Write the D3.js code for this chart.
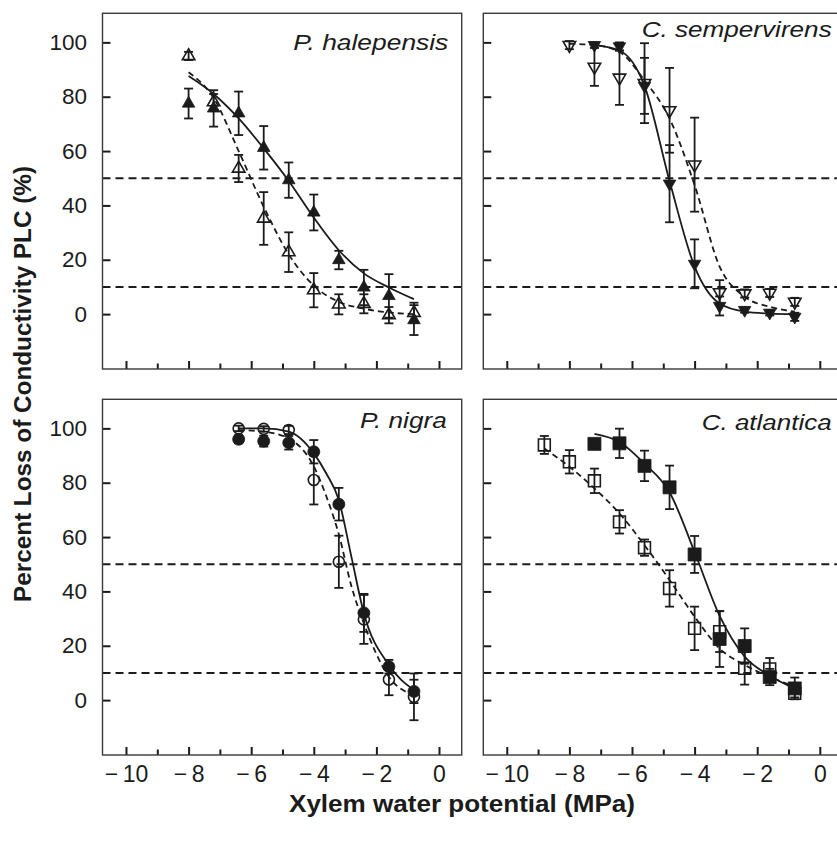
<!DOCTYPE html>
<html>
<head>
<meta charset="utf-8">
<script src="https://cdn.jsdelivr.net/npm/d3@7"></script>
<style>
  html, body { margin: 0; padding: 0; background: #fff; }
  svg { display: block; font-family: "Liberation Sans", Arial, Helvetica, sans-serif; }
</style>
</head>
<body>
<svg id="chart" width="837" height="843"></svg>
<script>
// ---------------- DATA ----------------
const xTicks = [-10, -9, -8, -7, -6, -5, -4, -3, -2, -1, 0];
const xLabels = [-10, -8, -6, -4, -2, 0];
const yTicks = [0, 20, 40, 60, 80, 100];
const refLines = [50, 10];

// P. halepensis (triangles up)
const phX = [-8, -7.2, -6.4, -5.6, -4.8, -4.0, -3.2, -2.4, -1.6, -0.8];
const phClosed = [77.5, 75.7, 73.9, 61.2, 49.3, 37.4, 19.9, 9.8, 6.7, -2.2];
const phClosedErr = [5.5, 6.7, 8, 8, 6.5, 6.6, 3.4, 6.5, 8, 5.5];
const phOpen = [95, 78, 53.6, 35.2, 22.8, 8.8, 3.6, 3.8, -0.4, 0.5];
const phOpenErr = [1.5, 3, 5, 9.7, 7.3, 6.3, 3.7, 3.5, 3, 3.7];
const phFitClosed = [87.6, 81, 72, 61, 49, 35.5, 23.5, 15, 9.8, 5.5];
const phFitOpen = [89, 79.5, 60, 39.5, 22, 10.5, 4.5, 2, 0.6, 0];

// C. sempervirens (triangles down)
const csClosedX = [-7.2, -6.4, -5.6, -4.8, -4.0, -3.2, -2.4, -1.6, -0.8];
const csClosed = [99, 98.5, 84, 48, 18.5, 3, 1.5, 0.5, -1];
const csClosedErr = [1, 1.5, 10.3, 14.2, 9, 3.5, 1, 1, 1.5];
const csOpenX = [-8, -7.2, -6.4, -5.6, -4.8, -4.0, -3.2, -2.4, -1.6, -0.8];
const csOpen = [99, 91, 87, 85, 75, 55, 8, 7.6, 7.8, 4.5];
const csOpenErr = [1.5, 7, 10, 14.7, 15.6, 17.3, 4.5, 1.5, 1.5, 1.5];
const csFitClosed = [99, 97, 84, 49, 17.5, 3.9, 0.9, 0.2, 0];
const csFitOpen = [99.5, 99, 96.5, 86, 72, 47.5, 17.5, 6.4, 2.7, 0.9];

// P. nigra (circles)
const pnX = [-6.4, -5.6, -4.8, -4.0, -3.2, -2.4, -1.6, -0.8];
const pnClosed = [96, 95.3, 94.7, 91.4, 72.1, 32.1, 12.3, 3.2];
const pnClosedErr = [1.5, 2, 2.5, 4.3, 6, 7, 2.5, 4.3];
const pnOpen = [100, 99.8, 99.4, 81, 50.9, 29.7, 7.6, 1.2];
const pnOpenErr = [1, 1, 1.5, 9, 9.6, 9, 5.8, 8.6];
const pnFitX = [-6.4, -5.6, -4.8, -4.0, -3.6, -3.2, -2.8, -2.4, -1.6, -0.8];
const pnFitClosed = [100, 100, 98.8, 90.8, 83.4, 73.6, 52.8, 32, 12.9, 3.7];
const pnFitOpen = [99.4, 98.8, 96.3, 86, 75, 61, 42, 28.2, 8.6, 1.8];

// C. atlantica (squares)
const caOpenX = [-8.8, -8.0, -7.2, -6.4, -5.6, -4.8, -4.0, -3.2, -2.4, -1.6, -0.8];
const caOpen = [93.9, 87.7, 80.7, 65.6, 56.1, 41.1, 26.4, 25.2, 11.7, 11.5, 2.5];
const caOpenErr = [3.3, 4.3, 4.5, 4.3, 3, 6.7, 8, 7.5, 6, 4, 1.5];
const caClosedX = [-7.2, -6.4, -5.6, -4.8, -4.0, -3.2, -2.4, -1.6, -0.8];
const caClosed = [94.3, 94.5, 86.2, 78.3, 53.6, 22.5, 19.9, 8.5, 4.3];
const caClosedErr = [1.5, 5.4, 5.6, 8, 6.8, 10.3, 6.5, 3, 4];
const caFitClosed = [98, 95, 87, 76.5, 54.5, 31, 16, 9, 4.3];
const caFitOpen = [92.6, 85.9, 77.9, 68.7, 57, 44.2, 30.7, 19, 12.9, 8.6, 4.9];

const speciesNames = ["P. halepensis", "C. sempervirens", "P. nigra", "C. atlantica"];
const xTitle = "Xylem water potential (MPa)";
const yTitle = "Percent Loss of Conductivity PLC (%)";

// ---------------- LAYOUT ----------------
const W = 359.2, H = 355.7;
const colLeft = [102.5, 483.3];
const rowTop = [13.3, 399.3];
const xDomain = [-10.75, 0.725];
const yDomain = [-20.2, 110.7];
const ink = "#1b1b1b";

const zip = (xs, ys) => xs.map((x, i) => [x, ys[i]]);
const zip3 = (xs, ys, es) => xs.map((x, i) => [x, ys[i], es[i]]);

const panels = [
  { name: speciesNames[0], col: 0, row: 0, shape: "up", labelX: 448.3, labelY: 50, labelW: 155,
    closed: zip3(phX, phClosed, phClosedErr), open: zip3(phX, phOpen, phOpenErr),
    fitClosed: zip(phX, phFitClosed), fitOpen: zip(phX, phFitOpen) },
  { name: speciesNames[1], col: 1, row: 0, shape: "down", labelX: 831.7, labelY: 36.7, labelW: 190,
    closed: zip3(csClosedX, csClosed, csClosedErr), open: zip3(csOpenX, csOpen, csOpenErr),
    fitClosed: zip(csClosedX, csFitClosed), fitOpen: zip(csOpenX, csFitOpen) },
  { name: speciesNames[2], col: 0, row: 1, shape: "circle", labelX: 446.7, labelY: 428.3, labelW: 86.7,
    closed: zip3(pnX, pnClosed, pnClosedErr), open: zip3(pnX, pnOpen, pnOpenErr),
    fitClosed: zip(pnFitX, pnFitClosed), fitOpen: zip(pnFitX, pnFitOpen) },
  { name: speciesNames[3], col: 1, row: 1, shape: "square", labelX: 831.7, labelY: 430, labelW: 130,
    closed: zip3(caClosedX, caClosed, caClosedErr), open: zip3(caOpenX, caOpen, caOpenErr),
    fitClosed: zip(caClosedX, caFitClosed), fitOpen: zip(caOpenX, caFitOpen) }
];

const svg = d3.select("#chart");

function symbolPath(shape, filled) {
  if (shape === "up" || shape === "down") return d3.symbol(d3.symbolTriangle, 68)();
  if (shape === "circle") return d3.symbol(d3.symbolCircle, filled ? 113 : 95)();
  return d3.symbol(d3.symbolSquare, filled ? 169 : 140)();
}

panels.forEach(p => {
  const left = colLeft[p.col], top = rowTop[p.row];
  const x = d3.scaleLinear().domain(xDomain).range([left, left + W]);
  const y = d3.scaleLinear().domain(yDomain).range([top + H, top]);
  const g = svg.append("g");

  // reference dashed lines
  g.selectAll("line.ref").data(refLines).join("line")
    .attr("x1", left).attr("x2", left + W)
    .attr("y1", d => y(d)).attr("y2", d => y(d))
    .attr("stroke", ink).attr("stroke-width", 2).attr("stroke-dasharray", "8,5");

  // axes (ticks inward)
  const xAxisMajor = d3.axisBottom(x).tickValues(xLabels).tickSize(-8).tickPadding(11)
    .tickFormat(d => p.row === 1 ? (d < 0 ? "\u2212\u2009" + Math.abs(d) : String(d)) : "");
  const xAxisMinor = d3.axisBottom(x).tickValues(xTicks.filter(t => xLabels.indexOf(t) < 0))
    .tickSize(-5.5).tickFormat("");
  const yAxis = d3.axisLeft(y).tickValues(yTicks).tickSize(-8).tickPadding(15.5)
    .tickFormat(d => p.col === 0 ? String(d) : "");

  [xAxisMajor, xAxisMinor].forEach(ax => {
    const a = g.append("g").attr("transform", `translate(0,${top + H})`).call(ax);
    a.select(".domain").remove();
    a.selectAll(".tick line").attr("stroke", ink).attr("stroke-width", 2);
    a.selectAll("text").attr("fill", ink).style("font-size", "23px")
      .style("font-family", '"Liberation Sans", Arial, sans-serif');
  });
  const ya = g.append("g").attr("transform", `translate(${left},0)`).call(yAxis);
  ya.select(".domain").remove();
  ya.selectAll(".tick line").attr("stroke", ink).attr("stroke-width", 2);
  ya.selectAll("text").attr("fill", ink).style("font-size", "22.5px")
    .style("font-family", '"Liberation Sans", Arial, sans-serif');

  // frame
  g.append("rect").attr("x", left).attr("y", top).attr("width", W).attr("height", H)
    .attr("fill", "none").attr("stroke", "#3a3a3a").attr("stroke-width", 1.4);

  // fitted curves
  const line = d3.line().x(d => x(d[0])).y(d => y(d[1])).curve(d3.curveMonotoneX);
  g.append("path").attr("d", line(p.fitClosed)).attr("fill", "none")
    .attr("stroke", ink).attr("stroke-width", 1.8);
  g.append("path").attr("d", line(p.fitOpen)).attr("fill", "none")
    .attr("stroke", ink).attr("stroke-width", 1.8).attr("stroke-dasharray", "6,4");

  // error bars
  [p.closed, p.open].forEach(series => {
    const eb = g.append("g").attr("stroke", ink).attr("stroke-width", 1.8);
    series.forEach(d => {
      const cx = x(d[0]), y1 = y(d[1] - d[2]), y2 = y(d[1] + d[2]);
      eb.append("line").attr("x1", cx).attr("x2", cx).attr("y1", y1).attr("y2", y2);
      eb.append("line").attr("x1", cx - 4.5).attr("x2", cx + 4.5).attr("y1", y1).attr("y2", y1);
      eb.append("line").attr("x1", cx - 4.5).attr("x2", cx + 4.5).attr("y1", y2).attr("y2", y2);
    });
  });

  // markers
  const rot = p.shape === "down" ? " rotate(180)" : "";
  g.selectAll("path.open").data(p.open).join("path")
    .attr("d", symbolPath(p.shape, false))
    .attr("transform", d => `translate(${x(d[0])},${y(d[1])})${rot}`)
    .attr("fill", "none").attr("stroke", ink).attr("stroke-width", 1.6);
  g.selectAll("path.closed").data(p.closed).join("path")
    .attr("d", symbolPath(p.shape, true))
    .attr("transform", d => `translate(${x(d[0])},${y(d[1])})${rot}`)
    .attr("fill", ink).attr("stroke", ink).attr("stroke-width", 0.8);

  // species label
  g.append("text").attr("x", p.labelX).attr("y", p.labelY)
    .attr("text-anchor", "end").attr("fill", ink)
    .style("font-size", "22px").style("font-style", "italic")
    .attr("textLength", p.labelW).attr("lengthAdjust", "spacingAndGlyphs")
    .text(p.name);
});

// axis titles
svg.append("text").attr("x", 462).attr("y", 812).attr("text-anchor", "middle")
  .attr("fill", ink).style("font-size", "24px").style("font-weight", "bold")
  .attr("textLength", 346).attr("lengthAdjust", "spacingAndGlyphs")
  .text(xTitle);
svg.append("text").attr("transform", "translate(31,384) rotate(-90)")
  .attr("text-anchor", "middle").attr("fill", ink)
  .style("font-size", "24.3px").style("font-weight", "bold")
  .text(yTitle);
</script>
</body>
</html>
